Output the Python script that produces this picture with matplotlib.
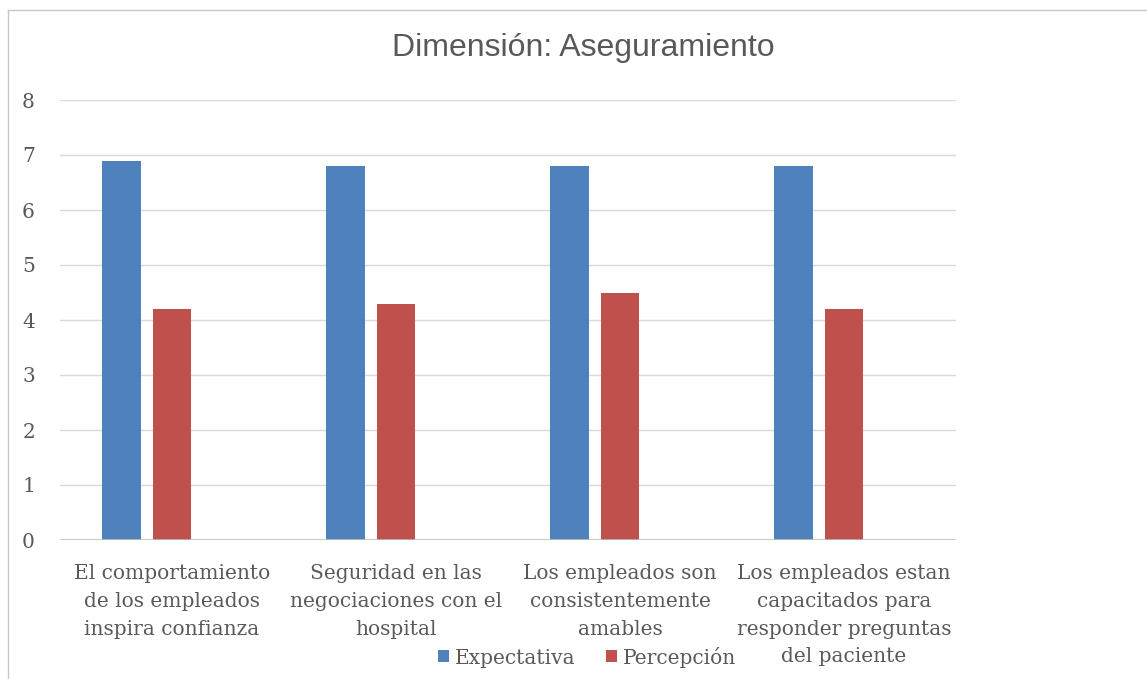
import matplotlib.pyplot as plt
import numpy as np

categorias = [
    "El comportamiento\nde los empleados\ninspira confianza",
    "Seguridad en las\nnegociaciones con el\nhospital",
    "Los empleados son\nconsistentemente\namables",
    "Los empleados estan\ncapacitados para\nresponder preguntas\ndel paciente",
]
expectativa = [6.9, 6.8, 6.8, 6.8]
percepcion = [4.2, 4.3, 4.5, 4.2]

AZUL = '#4F81BD'
ROJO = '#C0504D'
GRIS = '#595959'
SERIF = ['DejaVu Serif']

fig = plt.figure(figsize=(11.47, 6.79), dpi=100)
ax = fig.add_axes([60 / 1147, 139 / 679, 896 / 1147, 440 / 679])

x = np.arange(len(categorias))
paso = 0.224
ancho = 0.174
ax.bar(x - paso, expectativa, ancho, color=AZUL, label='Expectativa', zorder=3)
ax.bar(x, percepcion, ancho, color=ROJO, label='Percepción', zorder=3)

ax.set_xlim(-0.5, len(categorias) - 0.5)
ax.set_ylim(0, 8)
ax.set_yticks(range(0, 9))
ax.yaxis.grid(True, color='#D9D9D9', linewidth=1, zorder=0)
ax.axhline(0, color='#BFBFBF', linewidth=1.2, zorder=4)
for s in ax.spines.values():
    s.set_visible(False)
ax.tick_params(length=0)
ax.tick_params(axis='y', pad=18)
ax.tick_params(axis='x', pad=17.5)

ax.set_xticks(x)
ax.set_xticklabels(categorias, fontsize=14.5, color=GRIS, family=SERIF,
                   linespacing=1.58, va='top')
for t in ax.get_yticklabels():
    t.set_fontsize(14.5)
    t.set_color(GRIS)
    t.set_family(SERIF)

fig.text(583 / 1147, 1 - 48 / 679, 'Dimensión: Aseguramiento', ha='center', va='center',
         fontsize=23, color=GRIS, family='Liberation Sans')

leg = fig.legend(loc='center', bbox_to_anchor=(587 / 1147, 1 - 657 / 679), ncol=2,
                 frameon=False, prop={'family': SERIF, 'size': 14.5},
                 handlelength=0.55, handleheight=0.55, handletextpad=0.3,
                 columnspacing=1.5)
for t in leg.get_texts():
    t.set_color(GRIS)

# marco del gráfico
fig.add_artist(plt.Line2D([8 / 1147, 8 / 1147], [0, 1 - 10 / 679],
                          transform=fig.transFigure, color='#C8C8C8', linewidth=1))
fig.add_artist(plt.Line2D([8 / 1147, 1], [1 - 10 / 679, 1 - 10 / 679],
                          transform=fig.transFigure, color='#C8C8C8', linewidth=1))

fig.savefig('out.png', dpi=100, facecolor='white')
